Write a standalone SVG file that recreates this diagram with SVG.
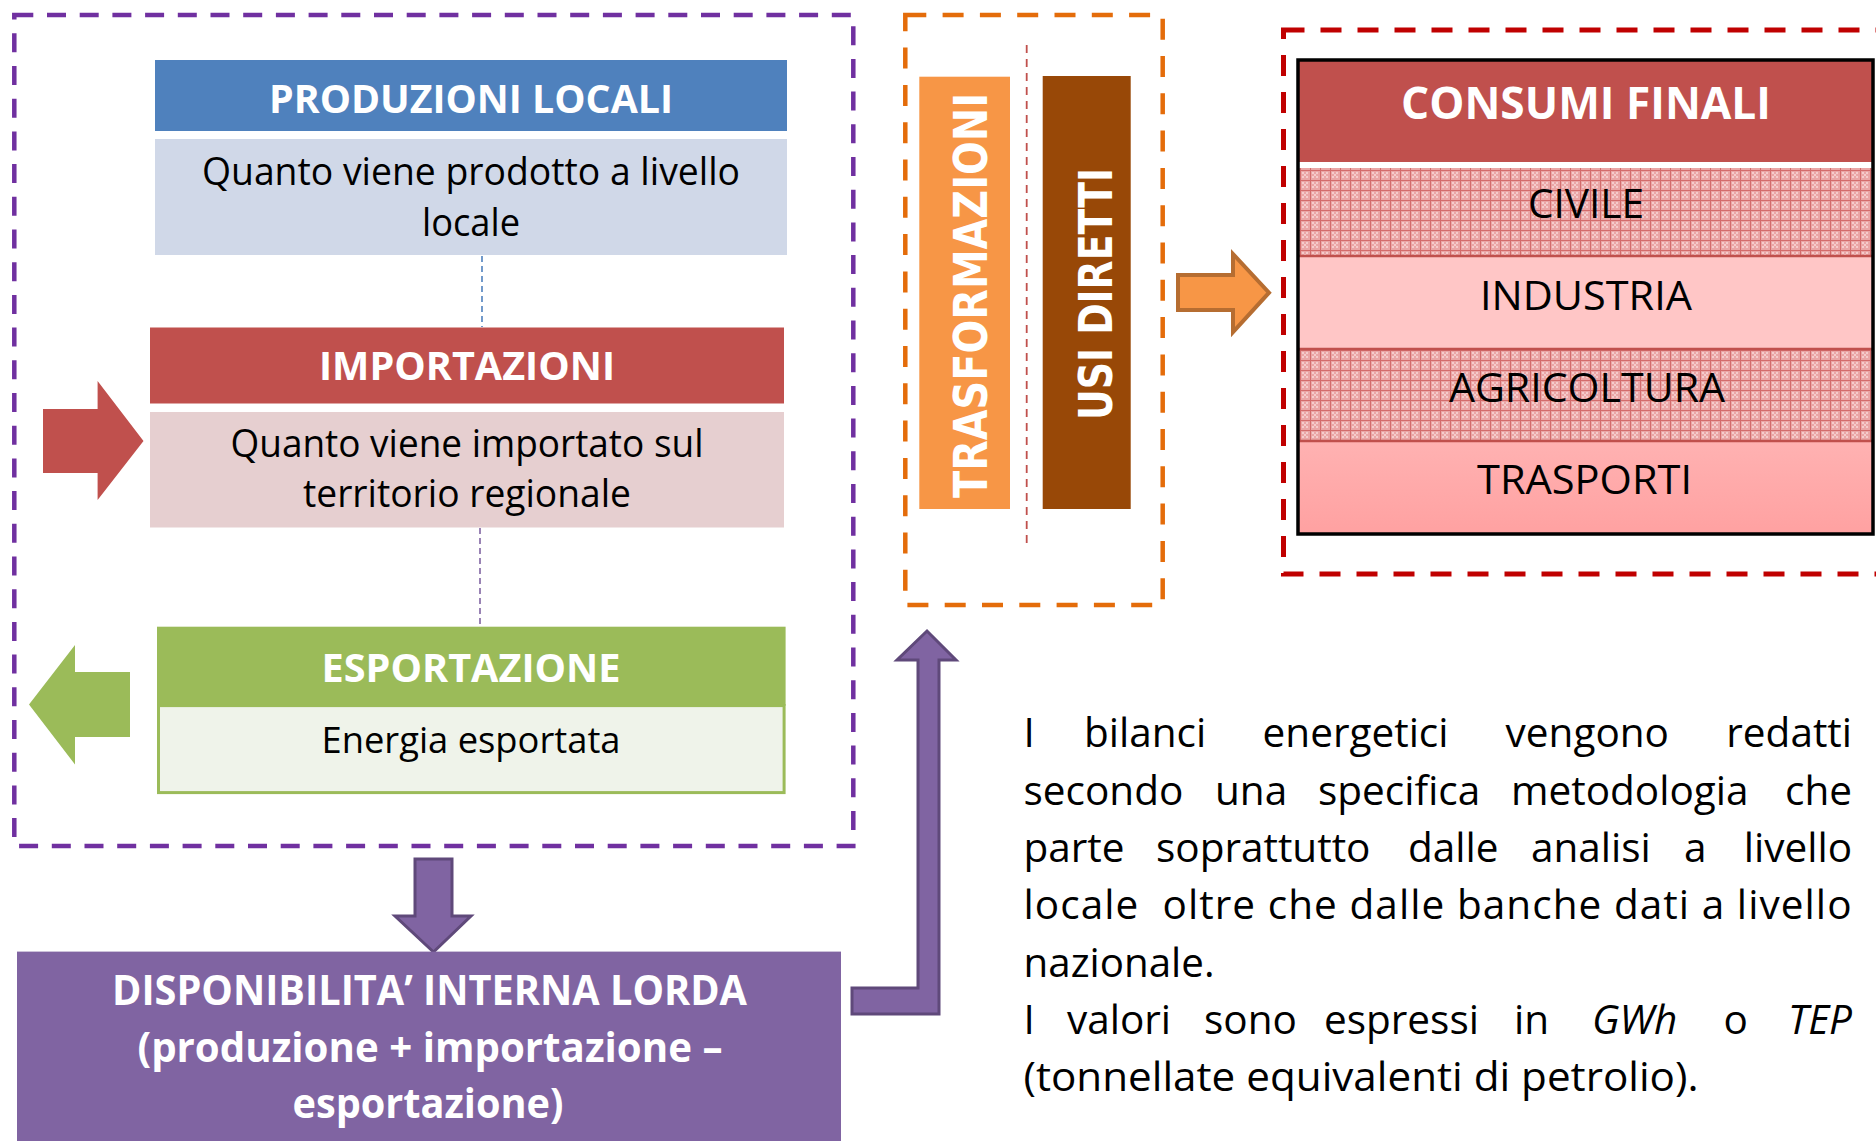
<svg xmlns="http://www.w3.org/2000/svg" width="1876" height="1141" viewBox="0 0 1876 1141">
<defs>
<style>
.hd{font-family:"Open Sans","Liberation Sans",sans-serif;font-weight:bold;fill:#FFFFFF;text-anchor:middle}
.bd{font-family:"Open Sans","Liberation Sans",sans-serif;fill:#000000;text-anchor:middle}
.vt{font-family:"DejaVu Sans","Liberation Sans",sans-serif;font-weight:bold;fill:#FFFFFF;text-anchor:middle;font-size:46px}
.pg{font-family:"Open Sans","Liberation Sans",sans-serif;fill:#000000;font-size:40.5px}
.dash{fill:none}
</style>
<pattern id="grid" width="10" height="10" patternUnits="userSpaceOnUse">
<rect width="10" height="10" fill="#EAA6A6"/>
<rect x="2" y="2" width="2" height="2" fill="#F5CCCC"/>
<rect x="6" y="2" width="2" height="2" fill="#F5CCCC"/>
<rect x="4" y="4" width="2" height="2" fill="#F5CCCC"/>
<rect x="2" y="6" width="2" height="2" fill="#F5CCCC"/>
<rect x="6" y="6" width="2" height="2" fill="#F5CCCC"/>
<path d="M0 0.5H10M0.5 0V10" stroke="#D36C6C" stroke-width="1"/>
</pattern>
<linearGradient id="trg" x1="0" y1="0" x2="0" y2="1">
<stop offset="0" stop-color="#FFB2B2"/>
<stop offset="1" stop-color="#FFA1A1"/>
</linearGradient>
</defs>
<rect width="1876" height="1141" fill="#FFFFFF"/>

<g id="containers">
<rect class="dash" x="14.3" y="15" width="839" height="831" stroke="#7030A0" stroke-width="4.5" stroke-dasharray="19 13.7"/>
<rect class="dash" x="905.3" y="15" width="257.4" height="590" stroke="#E46C0A" stroke-width="4.5" stroke-dasharray="21 16.3"/>
<rect class="dash" x="1283.5" y="30" width="700" height="544" stroke="#C00000" stroke-width="5" stroke-dasharray="21 16"/>
</g>

<g id="connectors">
<line x1="482" y1="256" x2="482" y2="327" stroke="#4F81BD" stroke-width="1.6" stroke-dasharray="6 4"/>
<line x1="480" y1="528" x2="480" y2="627" stroke="#8064A2" stroke-width="1.6" stroke-dasharray="6 4"/>
<line x1="1026.7" y1="45" x2="1026.7" y2="544" stroke="#C0504D" stroke-width="1.8" stroke-dasharray="8 6"/>
<polygon id="arrow-import" points="43,409 97.6,409 97.6,381 143.5,441 97.6,500 97.6,473 43,473" fill="#C0504D"/>
<polygon id="arrow-export" points="29,704.5 75,645 75,672 130,672 130,737 75,737 75,764.5" fill="#9BBB59"/>
<polygon id="arrow-down" points="415,859 452,859 452,916 471,916 433.5,952 395,916 415,916" fill="#8064A2" stroke="#5F497A" stroke-width="3" stroke-linejoin="miter"/>
<polygon id="arrow-elbow" points="852,988 918,988 918,660 897,660 927,631 956,660 939,660 939,1014 852,1014" fill="#8064A2" stroke="#5F497A" stroke-width="3"/>
<polygon id="arrow-orange" points="1178,275 1233,275 1233,254 1269,292.7 1233,332 1233,310 1178,310" fill="#F79646" stroke="#B66D31" stroke-width="4"/>
</g>

<g id="produzioni">
<rect x="155" y="60" width="632" height="71" fill="#4F81BD"/>
<rect x="155" y="139" width="632" height="116" fill="#D0D8E8"/>
<text class="hd" x="471" y="112.5" font-size="40" textLength="404" lengthAdjust="spacingAndGlyphs">PRODUZIONI LOCALI</text>
<text class="bd" x="471" y="185" font-size="37.5" textLength="538" lengthAdjust="spacingAndGlyphs">Quanto viene prodotto a livello</text>
<text class="bd" x="471" y="236" font-size="37.5" textLength="98" lengthAdjust="spacingAndGlyphs">locale</text>
</g>

<g id="importazioni">
<rect x="150" y="327.5" width="634" height="76" fill="#C0504D"/>
<rect x="150" y="412" width="634" height="115.5" fill="#E6CFD0"/>
<text class="hd" x="467" y="380" font-size="40" textLength="296" lengthAdjust="spacingAndGlyphs">IMPORTAZIONI</text>
<text class="bd" x="467" y="457" font-size="37.5" textLength="473" lengthAdjust="spacingAndGlyphs">Quanto viene importato sul</text>
<text class="bd" x="467" y="507" font-size="37.5" textLength="328" lengthAdjust="spacingAndGlyphs">territorio regionale</text>
</g>

<g id="esportazione">
<rect x="157" y="626.7" width="628.6" height="79" fill="#9BBB59"/>
<rect x="158.5" y="705.6" width="625.6" height="87" fill="#EFF3EA" stroke="#9BBB59" stroke-width="3"/>
<text class="hd" x="471" y="681.5" font-size="40" textLength="299" lengthAdjust="spacingAndGlyphs">ESPORTAZIONE</text>
<text class="bd" x="471" y="752.7" font-size="37" textLength="299" lengthAdjust="spacingAndGlyphs">Energia esportata</text>
</g>

<g id="disponibilita">
<rect x="17" y="951.6" width="824" height="200" fill="#8064A2"/>
<text class="hd" x="429.5" y="1005" font-size="41.5" textLength="635" lengthAdjust="spacingAndGlyphs">DISPONIBILITA’ INTERNA LORDA</text>
<text class="hd" x="430" y="1062" font-size="41.5" textLength="585" lengthAdjust="spacingAndGlyphs">(produzione + importazione –</text>
<text class="hd" x="428" y="1117.6" font-size="41.5" textLength="271" lengthAdjust="spacingAndGlyphs">esportazione)</text>
</g>

<g id="trasformazioni">
<rect x="919.3" y="76.7" width="90.7" height="432.3" fill="#F79646"/>
<text class="vt" x="987" y="295.5" transform="rotate(-90 987 295.5)" textLength="405" lengthAdjust="spacingAndGlyphs">TRASFORMAZIONI</text>
</g>

<g id="usi-diretti">
<rect x="1042.7" y="76" width="88" height="433" fill="#984807"/>
<text class="vt" x="1112" y="294" transform="rotate(-90 1112 294)" textLength="252" lengthAdjust="spacingAndGlyphs">USI DIRETTI</text>
</g>

<g id="consumi-finali">
<rect x="1298" y="60" width="575" height="102" fill="#C0504D"/>
<rect x="1298" y="162" width="575" height="6" fill="#FFFFFF"/>
<rect x="1298" y="168" width="575" height="88" fill="url(#grid)"/>
<rect x="1298" y="256" width="575" height="93" fill="#FFC6C6"/>
<rect x="1298" y="349" width="575" height="92" fill="url(#grid)"/>
<rect x="1298" y="441" width="575" height="93" fill="url(#trg)"/>
<path d="M1298 256H1873M1298 349H1873M1298 441H1873" stroke="#C0504D" stroke-width="2.5"/>
<rect x="1298" y="60" width="575" height="474" fill="none" stroke="#000000" stroke-width="3.5"/>
<text class="hd" x="1586" y="118.6" font-size="44" textLength="370" lengthAdjust="spacingAndGlyphs">CONSUMI FINALI</text>
<text class="bd" x="1586" y="217.5" font-size="41" textLength="116" lengthAdjust="spacingAndGlyphs">CIVILE</text>
<text class="bd" x="1586" y="310.4" font-size="41" textLength="212" lengthAdjust="spacingAndGlyphs">INDUSTRIA</text>
<text class="bd" x="1587" y="402" font-size="41" textLength="276" lengthAdjust="spacingAndGlyphs">AGRICOLTURA</text>
<text class="bd" x="1584.5" y="494" font-size="41" textLength="215" lengthAdjust="spacingAndGlyphs">TRASPORTI</text>
</g>

<g id="paragrafo">
<text class="pg" y="747"><tspan x="1023.5">I</tspan><tspan x="1084">bilanci</tspan><tspan x="1262.6">energetici</tspan><tspan x="1505.6">vengono</tspan></text>
<text class="pg" y="747" x="1852" text-anchor="end">redatti</text>
<text class="pg" y="805"><tspan x="1023.5">secondo</tspan><tspan x="1215">una</tspan><tspan x="1318">specifica</tspan><tspan x="1511">metodologia</tspan></text>
<text class="pg" y="805" x="1852" text-anchor="end">che</text>
<text class="pg" y="862"><tspan x="1023.5">parte</tspan><tspan x="1156">soprattutto</tspan><tspan x="1408">dalle</tspan><tspan x="1531">analisi</tspan><tspan x="1684">a</tspan></text>
<text class="pg" y="862" x="1852" text-anchor="end">livello</text>
<text class="pg" y="919" x="1023.5" textLength="828" lengthAdjust="spacing" xml:space="preserve">locale  oltre che dalle banche dati a livello</text>
<text class="pg" y="977" x="1023.5" textLength="191" lengthAdjust="spacingAndGlyphs">nazionale.</text>
<text class="pg" y="1034"><tspan x="1023.5">I</tspan><tspan x="1067">valori</tspan><tspan x="1204">sono</tspan><tspan x="1324">espressi</tspan><tspan x="1514">in</tspan><tspan x="1592" font-style="italic">GWh</tspan><tspan x="1723.5">o</tspan></text>
<text class="pg" y="1034" x="1852" text-anchor="end" font-style="italic">TEP</text>
<text class="pg" y="1091" x="1023.5" textLength="675" lengthAdjust="spacingAndGlyphs">(tonnellate equivalenti di petrolio).</text>
</g>
</svg>
